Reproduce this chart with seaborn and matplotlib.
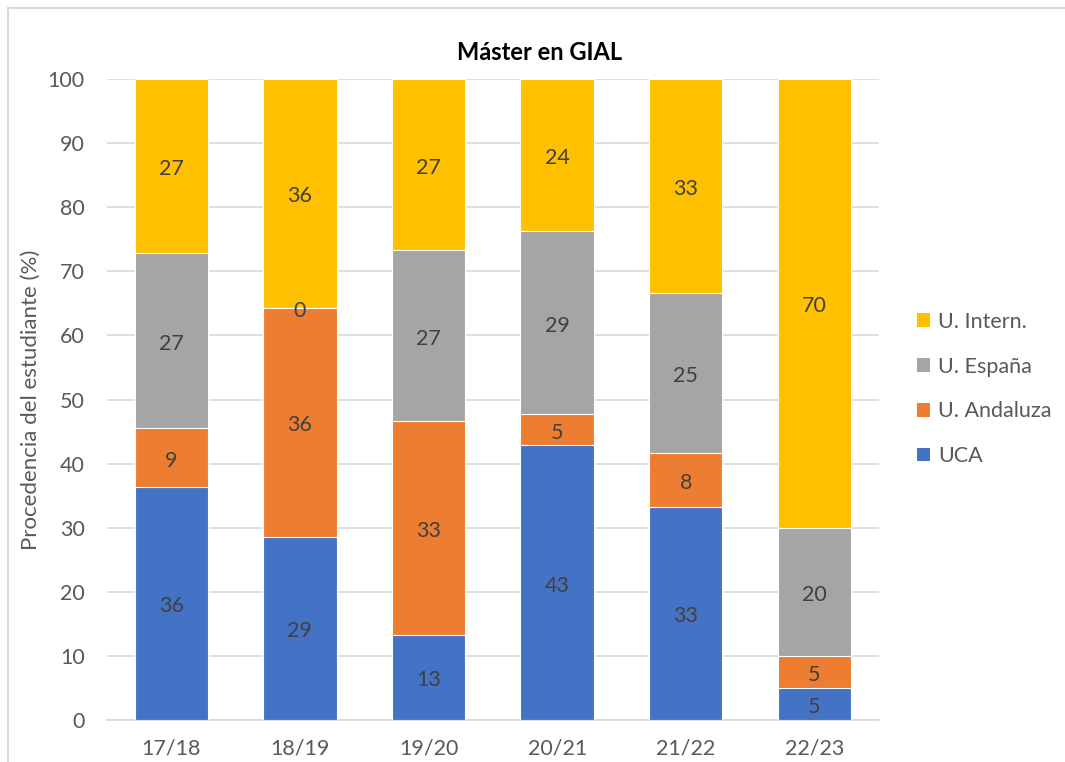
import matplotlib
matplotlib.use("Agg")
import matplotlib.pyplot as plt
import matplotlib.transforms as mtransforms
import seaborn as sns
import pandas as pd
import numpy as np
from matplotlib.patches import Rectangle, Patch

cursos = ["17/18", "18/19", "19/20", "20/21", "21/22", "22/23"]
uca = [36.4, 28.6, 13.3, 42.9, 33.3, 5.0]
andaluza = [9.1, 35.7, 33.3, 4.8, 8.3, 5.0]
espana = [27.3, 0.0, 26.7, 28.6, 25.0, 20.0]
intern = [27.2, 35.7, 26.7, 23.7, 33.4, 70.0]

series = [("UCA", uca, "#4472C4"),
          ("U. Andaluza", andaluza, "#ED7D31"),
          ("U. España", espana, "#A5A5A5"),
          ("U. Intern.", intern, "#FFC000")]

sns.set_theme(style="white")
plt.rcParams["font.family"] = ["Lato", "DejaVu Sans"]

fig = plt.figure(figsize=(10.65, 7.62), dpi=100)
ax = fig.add_axes([0.1005, 0.0551, 0.7245, 0.8412])

# cumulative tops
cum = np.zeros(len(cursos))
tops = []
for name, vals, col in series:
    cum = cum + np.array(vals)
    tops.append(cum.copy())

# draw from top layer down so lower ones overlay
for (name, vals, col), top in reversed(list(zip(series, tops))):
    df = pd.DataFrame({"curso": cursos, "v": top})
    sns.barplot(data=df, x="curso", y="v", color=col, width=0.57,
                saturation=1, edgecolor="white", linewidth=0.8, ax=ax, zorder=3)

# labels
off = mtransforms.offset_copy(ax.transData, fig=fig, x=0, y=-3, units="dots")
for (name, vals, col), top in zip(series, tops):
    for i, (v, t) in enumerate(zip(vals, top)):
        ax.text(i, t - v / 2, f"{v:.0f}", ha="center", va="center",
                fontsize=15.5, color="#404040", zorder=5, transform=off)

ax.set_xlim(-0.5, 5.5)
ax.set_ylim(0, 100)
ax.set_yticks(range(0, 101, 10))
ax.yaxis.grid(True, color="#D9D9D9", linewidth=1.2, zorder=0)
ax.set_axisbelow(True)
for s in ["top", "right", "left"]:
    ax.spines[s].set_visible(False)
ax.spines["bottom"].set_color("#D9D9D9")
ax.spines["bottom"].set_linewidth(1.2)
ax.tick_params(axis="both", colors="#595959", labelsize=15.5, length=0)
ax.tick_params(axis="y", pad=16)
ax.tick_params(axis="x", pad=13)
ax.set_xlabel("")
ax.set_ylabel("Procedencia del estudiante (%)", fontsize=16, color="#595959", labelpad=5)

fig.text(540 / 1065, 1 - 52 / 762, "Máster en GIAL", ha="center", va="center",
         fontsize=17, fontweight="bold", color="black")

handles = [Patch(facecolor=c, edgecolor="none", label=n) for n, v, c in reversed(series)]
leg = fig.legend(handles=handles, loc="center left", bbox_to_anchor=(898 / 1065, 1 - 389 / 762),
                 frameon=False, fontsize=15.5, handlelength=0.6, handleheight=0.6,
                 handletextpad=0.35, labelspacing=1.15)
for t in leg.get_texts():
    t.set_color("#595959")

fig.patches.append(Rectangle((8 / 1065, -0.1), 1.2, 1 - 8 / 762 + 0.1,
                             transform=fig.transFigure, fill=False,
                             edgecolor="#D9D9D9", linewidth=1.5))

fig.savefig("out.png", dpi=100)
